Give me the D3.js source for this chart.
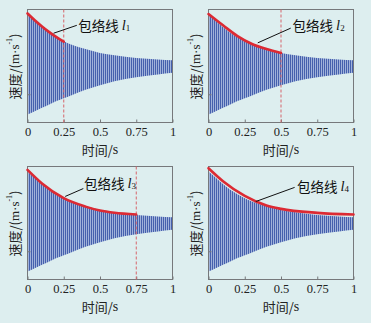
<!DOCTYPE html>
<html>
<head>
<meta charset="utf-8">
<script src="https://cdn.jsdelivr.net/npm/d3@7"></script>
<style>
  html, body { margin: 0; padding: 0; background: #ddeeef; }
  svg { display: block; }
</style>
</head>
<body>
<svg id="chart" width="371" height="323"></svg>
<script>
// signal band (upper / lower peaks), same in all panels
const times = [0, 0.05, 0.1, 0.15, 0.2, 0.25, 0.3, 0.4, 0.5, 0.6, 0.75, 0.9, 1];
const upperPeaks = [0.91, 0.80, 0.69, 0.59, 0.51, 0.44, 0.38, 0.30, 0.23, 0.19, 0.14, 0.115, 0.10];
const lowerPeaks = [-0.86, -0.80, -0.74, -0.68, -0.62, -0.57, -0.52, -0.42, -0.34, -0.27, -0.20, -0.15, -0.12];

// envelope lines l1..l4
const envT1 = [0, 0.05, 0.1, 0.15, 0.2, 0.25];
const envV1 = [0.93, 0.81, 0.70, 0.60, 0.51, 0.43];
const envT2 = [0, 0.1, 0.2, 0.3, 0.4, 0.5];
const envV2 = [0.92, 0.72, 0.53, 0.39, 0.30, 0.23];
const envT3 = [0, 0.1, 0.25, 0.4, 0.5, 0.6, 0.75];
const envV3 = [0.94, 0.70, 0.44, 0.29, 0.22, 0.18, 0.15];
const envT4 = [0, 0.1, 0.25, 0.4, 0.5, 0.75, 1];
const envV4 = [0.97, 0.74, 0.48, 0.31, 0.25, 0.18, 0.15];

const cutTimes = [0.25, 0.5, 0.75, null];
const envNames = ["1", "2", "3", "4"];

const xTicks = [0, 0.25, 0.5, 0.75, 1];
const xTickLabels = ["0", "0.25", "0.5", "0.75", "1"];
const yTicks = [-0.5];

// label anchors in data units: [labelT, labelV, leaderFromT, leaderFromV, leaderToT, leaderToV]
const notes = [
  [0.35, 0.73, 0.18, 0.58, 0.34, 0.72],
  [0.58, 0.73, 0.34, 0.41, 0.567, 0.67],
  [0.39, 0.70, 0.26, 0.47, 0.385, 0.61],
  [0.61, 0.66, 0.326, 0.38, 0.594, 0.63]
];

const envT = [envT1, envT2, envT3, envT4];
const envV = [envV1, envV2, envV3, envV4];

const W = 145, H = 113;
const origins = [[27, 9], [208, 9], [27, 166], [208, 166]];

const svg = d3.select("#chart");

// stripes standing for the dense oscillation
const defs = svg.append("defs");
const pat = defs.append("pattern")
    .attr("id", "osc")
    .attr("patternUnits", "userSpaceOnUse")
    .attr("width", 2)
    .attr("height", 4);
pat.append("rect").attr("width", 2).attr("height", 4).attr("fill", "#aabbe0");
pat.append("rect").attr("width", 1.1).attr("height", 4).attr("fill", "#4560ad");

const x = d3.scaleLinear().domain([0, 1]).range([0.5, W + 0.5]);
const y = d3.scaleLinear().domain([-1, 1]).range([H + 0.5, 0.5]);

const band = times.map((t, i) => ({ t, hi: upperPeaks[i], lo: lowerPeaks[i] }));

const area = d3.area()
    .x(d => x(d.t))
    .y0(d => y(d.lo))
    .y1(d => y(d.hi))
    .curve(d3.curveMonotoneX);

const line = d3.line()
    .x(d => x(d[0]))
    .y(d => y(d[1]))
    .curve(d3.curveMonotoneX);

const serif = "'Liberation Serif', 'DejaVu Serif', serif";
const cjk = "'Noto Sans CJK SC', 'Noto Sans', sans-serif";

origins.forEach((o, p) => {
  const g = svg.append("g").attr("transform", `translate(${o[0]},${o[1]})`);

  g.append("path")
      .datum(band)
      .attr("d", area)
      .attr("fill", "url(#osc)");

  // frame
  g.append("rect")
      .attr("x", 0.5).attr("y", 0.5)
      .attr("width", W).attr("height", H)
      .attr("fill", "none")
      .attr("stroke", "#76787b")
      .attr("stroke-width", 1);

  // bottom axis: inward ticks
  g.append("g")
      .attr("transform", `translate(0,${H + 0.5})`)
      .call(d3.axisBottom(x).tickValues(xTicks).tickSizeInner(-3).tickSizeOuter(0)
        .tickFormat((d, i) => xTickLabels[i]))
      .call(a => a.select(".domain").remove())
      .call(a => a.selectAll("line").attr("stroke", "#76787b"))
      .call(a => a.selectAll("text")
        .attr("y", 5)
        .attr("fill", "#222")
        .style("font-family", serif)
        .style("font-size", "12.5px"));

  g.append("g")
      .attr("transform", "translate(0.5,0)")
      .call(d3.axisLeft(y).tickValues(yTicks).tickSizeInner(-3).tickSizeOuter(0).tickFormat(""))
      .call(a => a.select(".domain").remove())
      .call(a => a.selectAll("line").attr("stroke", "#76787b"));

  // cut line
  if (cutTimes[p] !== null) {
    g.append("line")
        .attr("x1", x(cutTimes[p])).attr("x2", x(cutTimes[p]))
        .attr("y1", 0.5).attr("y2", H + 0.5)
        .attr("stroke", "#d6646a")
        .attr("stroke-width", 1)
        .attr("stroke-dasharray", "3,2");
  }

  // envelope
  g.append("path")
      .datum(envT[p].map((t, i) => [t, envV[p][i]]))
      .attr("d", line)
      .attr("fill", "none")
      .attr("stroke", "#dc2a33")
      .attr("stroke-width", 2.6)
      .attr("stroke-linecap", "round");

  // annotation
  const n = notes[p];
  g.append("line")
      .attr("x1", x(n[2])).attr("y1", y(n[3]))
      .attr("x2", x(n[4])).attr("y2", y(n[5]))
      .attr("stroke", "#111")
      .attr("stroke-width", 1);

  const lab = g.append("text")
      .attr("x", x(n[0])).attr("y", y(n[1]))
      .attr("dominant-baseline", "central")
      .attr("fill", "#111")
      .style("font-family", cjk)
      .style("font-size", "13.5px");
  lab.append("tspan").text("包络线");
  lab.append("tspan").text("l")
      .attr("dx", 3)
      .style("font-family", serif).style("font-style", "italic").style("font-size", "14.5px");
  lab.append("tspan").text(envNames[p])
      .attr("dy", 3)
      .style("font-family", serif).style("font-size", "9px");

  // axis titles
  g.append("text")
      .attr("x", x(0.5)).attr("y", H + 27)
      .attr("text-anchor", "middle")
      .attr("dominant-baseline", "central")
      .attr("fill", "#222")
      .style("font-family", cjk)
      .style("font-size", "13px")
      .call(t => {
        t.append("tspan").text("时间/");
        t.append("tspan").text("s").style("font-family", serif).style("font-size", "14px");
      });

  const yt = g.append("text")
      .attr("transform", `translate(-13,${H / 2 + 1}) rotate(-90)`)
      .attr("text-anchor", "middle")
      .attr("dominant-baseline", "central")
      .attr("fill", "#222")
      .style("font-family", cjk)
      .style("font-size", "13px");
  yt.append("tspan").text("速度/(");
  yt.append("tspan").text("m·s").style("font-family", serif).style("font-size", "13px");
  yt.append("tspan").text("-1").attr("dy", -5).style("font-family", serif).style("font-size", "8px");
  yt.append("tspan").text(")").attr("dy", 5);
});
</script>
</body>
</html>
